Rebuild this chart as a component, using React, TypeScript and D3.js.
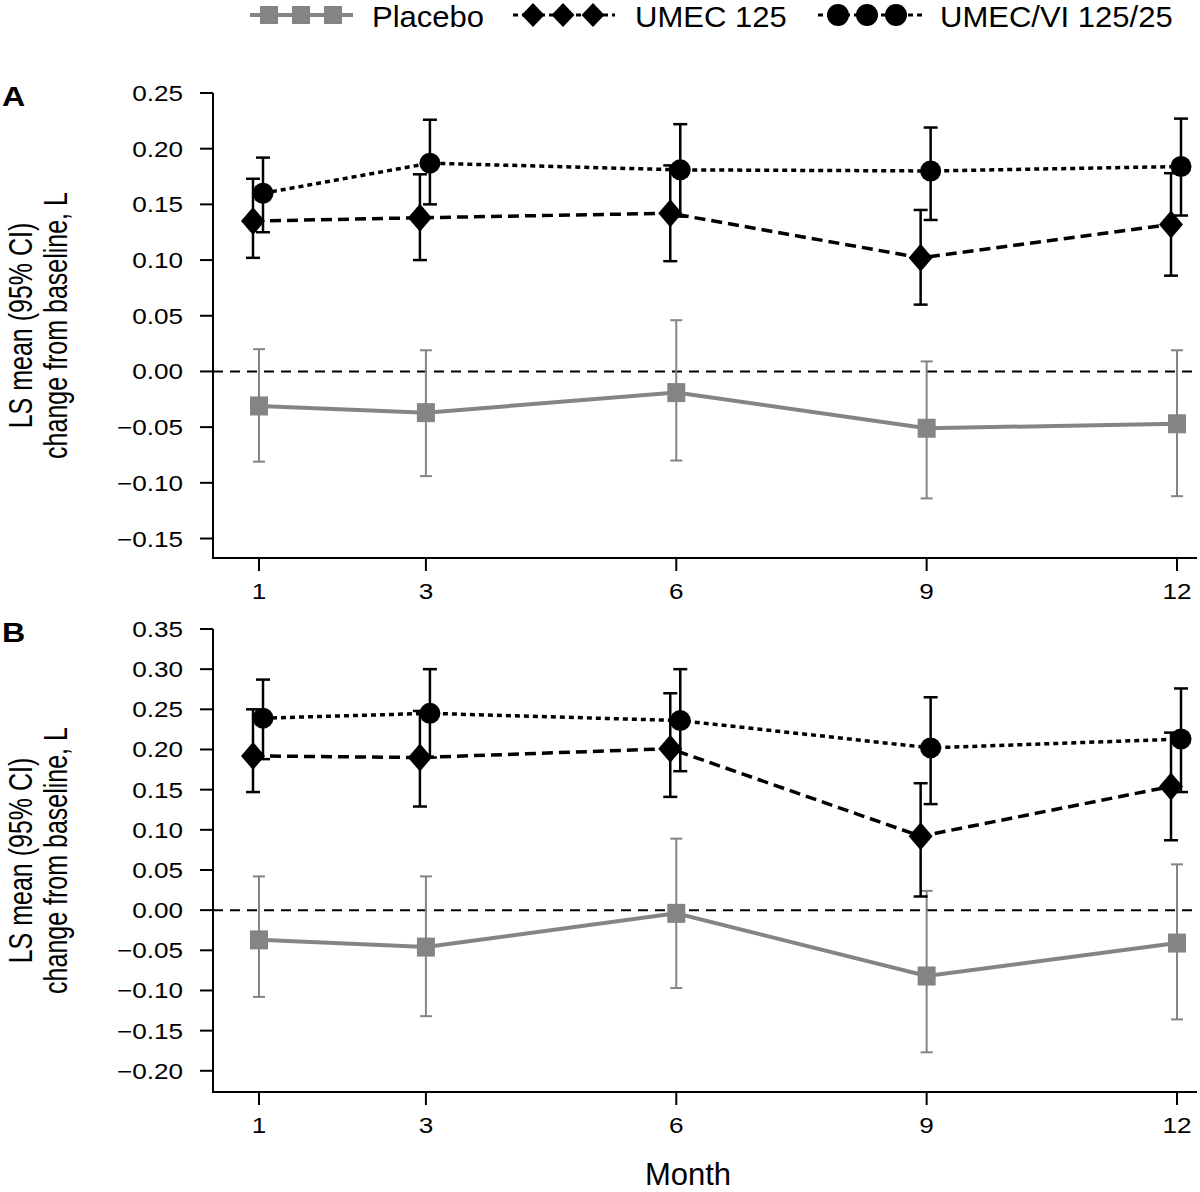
import React from "react";
import * as d3 from "d3";

const months = [1, 3, 6, 9, 12];
const seriesNames = ["Placebo", "UMEC 125", "UMEC/VI 125/25"];

// Panel A
const placeboA = [-0.031, -0.037, -0.019, -0.051, -0.047];
const placeboALo = [-0.081, -0.094, -0.08, -0.114, -0.112];
const placeboAHi = [0.02, 0.019, 0.046, 0.009, 0.019];
const umecA = [0.135, 0.138, 0.142, 0.102, 0.132];
const umecALo = [0.102, 0.1, 0.099, 0.06, 0.086];
const umecAHi = [0.173, 0.177, 0.185, 0.145, 0.178];
const umecviA = [0.16, 0.187, 0.181, 0.18, 0.184];
const umecviALo = [0.125, 0.15, 0.139, 0.136, 0.14];
const umecviAHi = [0.192, 0.226, 0.222, 0.219, 0.227];

// Panel B
const placeboB = [-0.037, -0.046, -0.004, -0.082, -0.041];
const placeboBLo = [-0.108, -0.132, -0.097, -0.177, -0.136];
const placeboBHi = [0.042, 0.042, 0.089, 0.024, 0.057];
const umecB = [0.192, 0.19, 0.201, 0.092, 0.154];
const umecBLo = [0.147, 0.129, 0.141, 0.017, 0.087];
const umecBHi = [0.25, 0.248, 0.27, 0.158, 0.221];
const umecviB = [0.239, 0.245, 0.236, 0.202, 0.213];
const umecviBLo = [0.188, 0.19, 0.173, 0.132, 0.147];
const umecviBHi = [0.287, 0.3, 0.3, 0.265, 0.276];

const ticksA = [0.25, 0.2, 0.15, 0.1, 0.05, 0, -0.05, -0.1, -0.15];
const ticksB = [0.35, 0.3, 0.25, 0.2, 0.15, 0.1, 0.05, 0, -0.05, -0.1, -0.15, -0.2];

const FONT = "'Liberation Sans', Arial, Helvetica, sans-serif";
const GREY = "#848484";

const fmt = (v: number) => {
  const s = Math.abs(v).toFixed(2);
  return v < -1e-9 ? "\u2212" + s : s;
};

type Series = {
  vals: number[];
  lo: number[];
  hi: number[];
  kind: "square" | "diamond" | "circle";
};

function Marker({ kind, x, y, legend }: { kind: string; x: number; y: number; legend?: boolean }) {
  if (kind === "square") {
    return <rect x={x - 9} y={y - (legend ? 9 : 9.5)} width={18} height={legend ? 18 : 19} fill={GREY} />;
  }
  if (kind === "diamond") {
    const w = legend ? 11.5 : 12;
    const h = legend ? 12 : 14;
    return <path d={`M${x},${y - h}L${x + w},${y}L${x},${y + h}L${x - w},${y}Z`} fill="#000" />;
  }
  return <circle cx={x} cy={y} r={legend ? 11 : 10.5} fill="#000" />;
}

function Panel({
  label,
  domain,
  range,
  ticks,
  series,
}: {
  label: string;
  domain: [number, number];
  range: [number, number];
  ticks: number[];
  series: Series[];
}) {
  const x = d3.scaleLinear().domain([1, 12]).range([259, 1177]);
  const y = d3.scaleLinear().domain(domain).range(range);
  const yTop = y(ticks[0]);
  const yBottom = range[0];
  const axisLeft = 213;
  const axisRight = 1197;
  const offsets: Record<string, number> = { square: 0, diamond: -6, circle: 4 };
  const mid = (yTop + yBottom) / 2;

  return (
    <g>
      <text
        transform={`translate(2, ${yTop + 13}) scale(1.15,1)`}
        fontFamily={FONT}
        fontWeight="bold"
        fontSize={28}
      >
        {label}
      </text>
      <text
        transform={`translate(32, ${mid}) scale(1.32,1) rotate(-90)`}
        textAnchor="middle"
        fontFamily={FONT}
        fontSize={25}
      >
        LS mean (95% CI)
      </text>
      <text
        transform={`translate(67, ${mid}) scale(1.32,1) rotate(-90)`}
        textAnchor="middle"
        fontFamily={FONT}
        fontSize={25}
      >
        change from baseline, L
      </text>
      <line x1={axisLeft} x2={axisLeft} y1={yTop} y2={yBottom + 1} stroke="#000" strokeWidth={2} />
      <line x1={axisLeft - 1} x2={axisRight} y1={yBottom} y2={yBottom} stroke="#000" strokeWidth={2} />
      {ticks.map((t) => (
        <g key={t}>
          <line x1={axisLeft - 13} x2={axisLeft} y1={y(t)} y2={y(t)} stroke="#000" strokeWidth={2} />
          <text
            transform={`translate(183, ${y(t) + 8}) scale(1.16,1)`}
            textAnchor="end"
            fontFamily={FONT}
            fontSize={22.5}
          >
            {fmt(t)}
          </text>
        </g>
      ))}
      {months.map((m) => (
        <g key={m}>
          <line x1={x(m)} x2={x(m)} y1={yBottom} y2={yBottom + 13} stroke="#000" strokeWidth={2} />
          <text
            transform={`translate(${x(m)}, ${yBottom + 41}) scale(1.16,1)`}
            textAnchor="middle"
            fontFamily={FONT}
            fontSize={22.5}
          >
            {m}
          </text>
        </g>
      ))}
      <line
        x1={axisLeft}
        x2={axisRight}
        y1={y(0)}
        y2={y(0)}
        stroke="#000"
        strokeWidth={2}
        strokeDasharray="10,7"
      />
      {series.map((s, si) => {
        const off = offsets[s.kind];
        const isGrey = s.kind === "square";
        const color = isGrey ? GREY : "#000";
        const line = d3
          .line<number>()
          .x((_, i) => x(months[i]) + off)
          .y((v) => y(v));
        const dash = s.kind === "diamond" ? "11,6" : s.kind === "circle" ? "5,4" : undefined;
        const cap = isGrey ? 6 : 7;
        const sw = isGrey ? 2 : 2.5;
        return (
          <g key={si}>
            {s.vals.map((v, i) => {
              const cx = x(months[i]) + off;
              return (
                <g key={i}>
                  <line x1={cx} x2={cx} y1={y(s.lo[i])} y2={y(s.hi[i])} stroke={color} strokeWidth={sw} />
                  <line x1={cx - cap} x2={cx + cap} y1={y(s.lo[i])} y2={y(s.lo[i])} stroke={color} strokeWidth={sw} />
                  <line x1={cx - cap} x2={cx + cap} y1={y(s.hi[i])} y2={y(s.hi[i])} stroke={color} strokeWidth={sw} />
                </g>
              );
            })}
            <path
              d={line(s.vals) || ""}
              fill="none"
              stroke={color}
              strokeWidth={isGrey ? 4 : 3.5}
              strokeDasharray={dash}
            />
            {s.vals.map((v, i) => (
              <Marker key={i} kind={s.kind} x={x(months[i]) + off} y={y(v)} />
            ))}
          </g>
        );
      })}
    </g>
  );
}

function Legend() {
  const items = [
    { kind: "square", x1: 250, x2: 353, marks: [269, 301, 333], tx: 372, dash: undefined, color: GREY, w: 4 },
    { kind: "diamond", x1: 513, x2: 615, marks: [533, 563, 593], tx: 635, dash: "5,4", color: "#000", w: 3 },
    { kind: "circle", x1: 818, x2: 922, marks: [838, 867, 896], tx: 940, dash: "5,4", color: "#000", w: 3 },
  ];
  const ly = 15;
  return (
    <g>
      {items.map((it, i) => (
        <g key={i}>
          <line x1={it.x1} x2={it.x2} y1={ly} y2={ly} stroke={it.color} strokeWidth={it.w} strokeDasharray={it.dash} />
          {it.marks.map((mx) => (
            <Marker key={mx} kind={it.kind} x={mx} y={ly} legend />
          ))}
          <text
            transform={`translate(${it.tx}, 27) scale(1.07,1)`}
            fontFamily={FONT}
            fontSize={29}
          >
            {seriesNames[i]}
          </text>
        </g>
      ))}
    </g>
  );
}

export default function App() {
  const seriesA: Series[] = [
    { vals: placeboA, lo: placeboALo, hi: placeboAHi, kind: "square" },
    { vals: umecA, lo: umecALo, hi: umecAHi, kind: "diamond" },
    { vals: umecviA, lo: umecviALo, hi: umecviAHi, kind: "circle" },
  ];
  const seriesB: Series[] = [
    { vals: placeboB, lo: placeboBLo, hi: placeboBHi, kind: "square" },
    { vals: umecB, lo: umecBLo, hi: umecBHi, kind: "diamond" },
    { vals: umecviB, lo: umecviBLo, hi: umecviBHi, kind: "circle" },
  ];
  return (
    <svg
      width={1200}
      height={1192}
      style={{ position: "absolute", left: 0, top: 0, display: "block", background: "#fff" }}
    >
      <rect width={1200} height={1192} fill="#fff" />
      <Legend />
      <Panel label="A" domain={[-0.1675, 0.25]} range={[558, 93]} ticks={ticksA} series={seriesA} />
      <Panel label="B" domain={[-0.2264, 0.35]} range={[1092, 629]} ticks={ticksB} series={seriesB} />
      <text x={688} y={1185} textAnchor="middle" fontFamily={FONT} fontSize={31}>
        Month
      </text>
    </svg>
  );
}
